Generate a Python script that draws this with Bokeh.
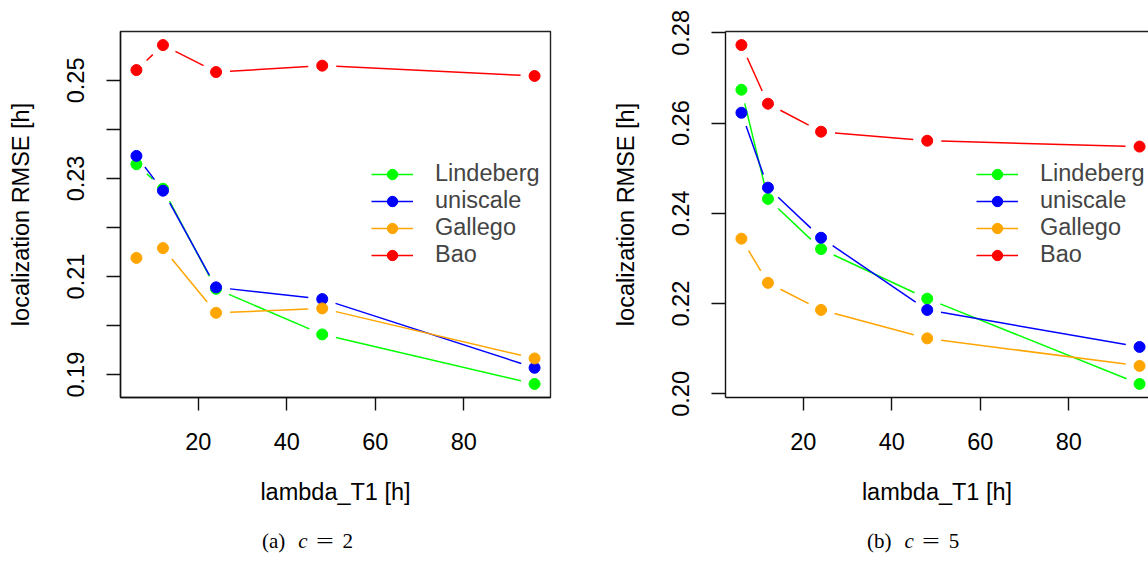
import math
from bokeh.plotting import figure
from bokeh.models import (Range1d, FixedTicker, PrintfTickFormatter, Legend,
                          LegendItem, LinearAxis, Div)
from bokeh.layouts import row, column
from bokeh.embed import file_html
from bokeh.resources import INLINE

# ---------------- data ----------------
x_vals = [6, 12, 24, 48, 96]
series_names = ["Lindeberg", "uniscale", "Gallego", "Bao"]
series_colors = ["#00FF00", "#0000FF", "#FFA500", "#FF0000"]

c2_lindeberg = [0.2329, 0.2279, 0.2075, 0.1982, 0.1881]
c2_uniscale = [0.2346, 0.2275, 0.2078, 0.2054, 0.1914]
c2_gallego = [0.2138, 0.2158, 0.2026, 0.2035, 0.1933]
c2_bao = [0.2521, 0.2572, 0.2517, 0.2530, 0.2509]

c5_lindeberg = [0.2674, 0.2432, 0.2321, 0.2211, 0.2022]
c5_uniscale = [0.2623, 0.2457, 0.2346, 0.2186, 0.2104]
c5_gallego = [0.2344, 0.2246, 0.2186, 0.2123, 0.2062]
c5_bao = [0.2773, 0.2643, 0.2581, 0.2561, 0.2548]

x_ticks = [20, 40, 60, 80]
y_ticks_c2 = [0.19, 0.21, 0.23, 0.25]
y_minor_c2 = [0.20, 0.22, 0.24]
y_ticks_c5 = [0.20, 0.22, 0.24, 0.26, 0.28]
y_minor_c5 = []

x_label = "lambda_T1 [h]"
y_label = "localization RMSE [h]"
caption_a = ("(a)", "c", "=", "2")
caption_b = ("(b)", "c", "=", "5")

FONT = "Liberation Sans"
SERIF = "Liberation Serif"
FS = "23.5px"
FULL_FW = 430   # full frame width of an R panel
FH = 366        # frame height
GAP = 14.0      # R type="b" gap around points (px)
FIG_H = 530


def gapped(xs, ys, kx, ky, gap):
    x0, y0, x1, y1 = [], [], [], []
    for i in range(len(xs) - 1):
        dxu = xs[i + 1] - xs[i]
        dyu = ys[i + 1] - ys[i]
        L = math.hypot(dxu * kx, dyu * ky)
        if L <= 2 * gap:
            continue
        f = gap / L
        x0.append(xs[i] + dxu * f)
        y0.append(ys[i] + dyu * f)
        x1.append(xs[i + 1] - dxu * f)
        y1.append(ys[i + 1] - dyu * f)
    return x0, y0, x1, y1


def make_panel(series, yticks, yminor, border_left, fw, border_right, full_box):
    ally = [v for s in series for v in s]
    ymin, ymax = min(ally), max(ally)
    yr = ymax - ymin
    ylo, yhi = ymin - 0.04 * yr, ymax + 0.04 * yr
    xmin, xmax = min(x_vals), max(x_vals)
    xr = xmax - xmin
    xlo, xhi = xmin - 0.04 * xr, xmax + 0.04 * xr
    xend = xlo + (xhi - xlo) * fw / FULL_FW

    p = figure(width=border_left + fw + border_right, height=FIG_H,
               x_range=Range1d(xlo, xend), y_range=Range1d(ylo, yhi),
               output_backend="svg", toolbar_location=None,
               min_border_left=border_left, min_border_right=border_right,
               min_border_top=31, min_border_bottom=FIG_H - 31 - FH)
    p.xgrid.grid_line_color = None
    p.ygrid.grid_line_color = None
    p.background_fill_color = "white"
    p.border_fill_color = "white"

    kx = fw / (xend - xlo)
    ky = FH / (yhi - ylo)

    items = []
    for name, col, ys in zip(series_names, series_colors, series):
        x0, y0, x1, y1 = gapped(x_vals, ys, kx, ky, GAP)
        sr = p.segment(x0=x0, y0=y0, x1=x1, y1=y1, line_color=col, line_width=1.5)
        cr = p.scatter(x_vals, ys, size=11, marker="circle",
                       fill_color=col, line_color=col)
        items.append(LegendItem(label=name, renderers=[sr, cr]))

    leg = Legend(items=items, location=(251, 129), padding=0, margin=0,
                 spacing=0, glyph_width=42, glyph_height=26, label_height=26,
                 label_standoff=22, label_text_font=FONT,
                 label_text_font_size=FS, border_line_color=None,
                 background_fill_alpha=0)
    p.add_layout(leg)

    xa = p.below[0]
    xa.ticker = FixedTicker(ticks=x_ticks)
    xa.formatter = PrintfTickFormatter(format="%d")
    xa.axis_label = x_label
    ya = p.left[0]
    ya.ticker = FixedTicker(ticks=yticks, minor_ticks=yminor)
    ya.formatter = PrintfTickFormatter(format="%.2f")
    ya.axis_label = y_label
    ya.major_label_orientation = "parallel"
    for ax in (xa, ya):
        ax.axis_line_color = "#111111"
        ax.axis_line_width = 1.4
        ax.major_tick_line_color = "#111111"
        ax.major_tick_line_width = 1.4
        ax.major_tick_in = 0
        ax.major_tick_out = 14
        ax.minor_tick_in = 0
        ax.minor_tick_out = 14
        ax.minor_tick_line_color = "#111111"
        ax.minor_tick_line_width = 1.4
        ax.major_label_text_font = FONT
        ax.major_label_text_font_size = FS
        ax.major_label_text_color = "black"
        ax.axis_label_text_font = FONT
        ax.axis_label_text_font_size = FS
        ax.axis_label_text_font_style = "normal"
        ax.axis_label_text_color = "black"
    xa.major_tick_out = 13
    xa.minor_tick_out = 0
    xa.major_label_standoff = 22
    xa.axis_label_standoff = 26
    ya.major_label_standoff = 22
    ya.axis_label_standoff = 31

    if full_box:
        p.outline_line_color = "#222222"
        p.outline_line_width = 1.4
    else:
        p.outline_line_color = None
        top = LinearAxis(ticker=FixedTicker(ticks=[]),
                         major_label_text_font_size="0px",
                         major_tick_line_color=None, minor_tick_line_color=None,
                         axis_line_color="#222222", axis_line_width=1.4)
        p.add_layout(top, "above")
    return p


def caption_div(parts, width):
    label, var, eq, val = parts
    html = (
        f'<div style="padding-left:262px;padding-top:1px;white-space:nowrap;'
        f'font-family:\'{SERIF}\';font-size:21px;line-height:1;color:black;">'
        f'{label}'
        f'<span style="margin-left:13px;font-style:italic;">{var}</span>'
        f'<span style="display:inline-block;margin-left:11px;transform:scaleX(1.5);">{eq}</span>'
        f'<span style="margin-left:12px;">{val}</span>'
        f'</div>'
    )
    return Div(text=html, width=width, height=563 - FIG_H, margin=0)


p1 = make_panel([c2_lindeberg, c2_uniscale, c2_gallego, c2_bao],
                y_ticks_c2, y_minor_c2, 120, 430, 55, True)
p2 = make_panel([c5_lindeberg, c5_uniscale, c5_gallego, c5_bao],
                y_ticks_c5, y_minor_c5, 120, 423, 0, False)

d1 = caption_div(caption_a, 605)
d2 = caption_div(caption_b, 543)

layout = column(row(p1, p2), row(d1, d2))
open("out.html", "w").write(file_html(layout, INLINE))
